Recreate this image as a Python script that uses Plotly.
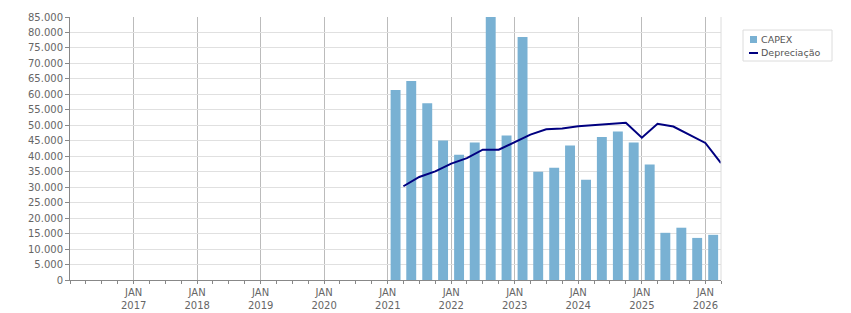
import plotly.graph_objects as go

# ---- data ----
bar_dates = ["2021-02-15", "2021-05-16", "2021-08-16", "2021-11-15",
             "2022-02-15", "2022-05-16", "2022-08-16", "2022-11-15",
             "2023-02-15", "2023-05-16", "2023-08-16", "2023-11-15",
             "2024-02-15", "2024-05-16", "2024-08-16", "2024-11-15",
             "2025-02-15", "2025-05-16", "2025-08-16", "2025-11-15",
             "2026-02-15"]
capex = [61400, 64300, 57100, 45100,
         40500, 44400, 85000, 46700,
         78500, 35000, 36300, 43500,
         32400, 46200, 48000, 44400,
         37300, 15250, 16900, 13600,
         14600]

line_dates = ["2021-04-01", "2021-07-01", "2021-10-01", "2022-01-01",
              "2022-04-01", "2022-07-01", "2022-10-01", "2023-01-01",
              "2023-04-01", "2023-07-01", "2023-10-01", "2024-01-01",
              "2024-04-01", "2024-07-01", "2024-10-01", "2025-01-01",
              "2025-04-01", "2025-07-01", "2025-10-01", "2026-01-01",
              "2026-04-01"]
depreciacao = [30300, 33300, 35100, 37600,
               39400, 42100, 42100, 44500,
               47000, 48700, 49000, 49700,
               50100, 50300, 50800, 46000,
               50500, 49600, 47000, 44300,
               37800]

tick_years = [2017, 2018, 2019, 2020, 2021, 2022, 2023, 2024, 2025, 2026]
tick_vals = [f"{y}-01-01" for y in tick_years]
tick_text = [f"JAN<br>{y}" for y in tick_years]

series_names = ["CAPEX", "Depreciação"]
bar_color = "#79B1D3"
line_color = "#000080"

FONT = "DejaVu Sans"

fig = go.Figure()
fig.add_trace(go.Bar(x=bar_dates, y=capex, name=series_names[0],
                     marker=dict(color=bar_color, line=dict(width=0)),
                     width=57 * 86400000, showlegend=False))
fig.add_trace(go.Scatter(x=line_dates, y=depreciacao, name=series_names[1],
                         mode="lines", line=dict(color=line_color, width=2),
                         showlegend=False))

# plot geometry (pixels)
W, H = 851, 313
L, R, T, B = 70, 721, 17, 280
pw, ph = R - L, B - T

def px(x):
    return (x - L) / pw

def py(y):
    return (B - y) / ph

shapes = [
    # right border of plot area
    dict(type="line", xref="paper", yref="paper", x0=1, x1=1, y0=0, y1=1,
         line=dict(color="#dcdcdc", width=1)),
    # legend box
    dict(type="rect", xref="paper", yref="paper",
         x0=px(743), x1=px(832), y0=py(30), y1=py(61),
         line=dict(color="#dcdcdc", width=1), fillcolor="white"),
    # CAPEX swatch
    dict(type="rect", xref="paper", yref="paper",
         x0=px(750), x1=px(757), y0=py(36), y1=py(43),
         line=dict(width=0), fillcolor=bar_color),
    # Depreciação swatch
    dict(type="line", xref="paper", yref="paper",
         x0=px(749), x1=px(758), y0=py(53), y1=py(53),
         line=dict(color=line_color, width=2)),
]
annotations = [
    dict(xref="paper", yref="paper", x=px(759), y=py(39.5), xanchor="left",
         yanchor="middle", text=series_names[0], showarrow=False,
         font=dict(family=FONT, size=9.5, color="#555555")),
    dict(xref="paper", yref="paper", x=px(759), y=py(52.5), xanchor="left",
         yanchor="middle", text=series_names[1], showarrow=False,
         font=dict(family=FONT, size=9.5, color="#555555")),
]

fig.update_layout(
    width=W, height=H,
    margin=dict(l=L, r=W - R, t=T, b=H - B, pad=0, autoexpand=False),
    paper_bgcolor="white", plot_bgcolor="white",
    separators=",.",
    font=dict(family=FONT, size=10, color="#666666"),
    bargap=0.3,
    showlegend=False,
    shapes=shapes,
    annotations=annotations,
    xaxis=dict(
        type="date", automargin=False,
        range=["2016-01-01", "2026-04-01"],
        tickmode="array", tickvals=tick_vals, ticktext=tick_text,
        showgrid=True, gridcolor="#bbbbbb", gridwidth=1,
        showline=True, linecolor="#888888", linewidth=1,
        ticks="outside", ticklen=3, tickcolor="#888888",
        tickfont=dict(family=FONT, size=10, color="#666666"),
        minor=dict(dtick="M3", tick0="2016-01-01", ticks="outside",
                   ticklen=3, tickcolor="#888888", showgrid=False),
        zeroline=False, fixedrange=True,
    ),
    yaxis=dict(
        automargin=False,
        range=[0, 85000], dtick=5000, tick0=0,
        tickformat=",d",
        showgrid=True, gridcolor="#e0e0e0", gridwidth=1,
        showline=True, linecolor="#888888", linewidth=1,
        ticks="outside", ticklen=4, tickcolor="#888888",
        tickfont=dict(family=FONT, size=10, color="#666666"),
        zeroline=False, fixedrange=True,
    ),
)

fig.write_html("out.html")
